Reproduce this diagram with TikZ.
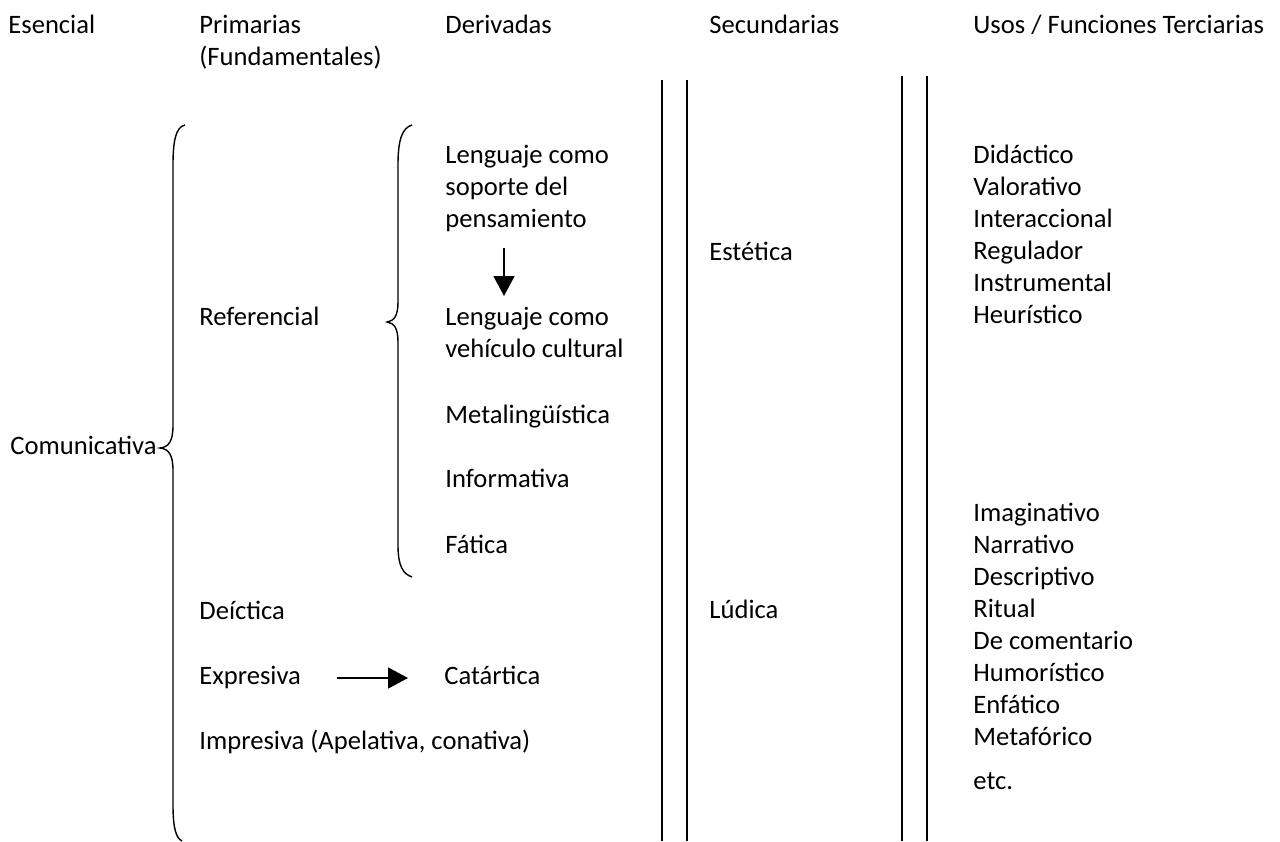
\documentclass[tikz,border=0pt]{standalone}
\usepackage{fontspec}
\setmainfont{Carlito}
\usetikzlibrary{arrows.meta}

\begin{document}
\begin{tikzpicture}[x=0.5pt,y=-0.5pt,
    lbl/.style={anchor=base west,inner sep=0pt,text height=9pt,text depth=3pt,font=\fontsize{13.3}{16}\selectfont},
    arr/.style={-{Triangle[length=10pt,width=10.5pt]},line width=0.8pt},
    sep/.style={line width=1pt},
    brace/.style={line width=0.7pt}]
    \useasboundingbox (0,0) rectangle (1280,841);

    % headers
    \node[lbl] at (8,33) (h1) {Esencial};
    \node[lbl] at (199,33) (h2) {Primarias};
    \node[lbl] at (199,65) (h2b) {(Fundamentales)};
    \node[lbl] at (445,33) (h3) {Derivadas};
    \node[lbl] at (709,33) (h4) {Secundarias};
    \node[lbl] at (973,33) (h5) {Usos / Funciones Terciarias};

    % esencial and primarias
    \node[lbl] at (10,454) (com) {Comunicativa};
    \node[lbl] at (199,325) (ref) {Referencial};
    \node[lbl] at (199,619) (dei) {Deíctica};
    \node[lbl] at (199,684) (expr) {Expresiva};
    \node[lbl] at (199,749) (imp) {Impresiva (Apelativa, conativa)};

    % derivadas
    \node[lbl] at (445,163) (lc1) {Lenguaje como};
    \node[lbl] at (445,195) (sop) {soporte del};
    \node[lbl] at (445,227) (pen) {pensamiento};
    \node[lbl] at (445,325) (lc2) {Lenguaje como};
    \node[lbl] at (445,357) (veh) {vehículo cultural};
    \node[lbl] at (445,423) (met) {Metalingüística};
    \node[lbl] at (445,487) (inf) {Informativa};
    \node[lbl] at (445,553) (fat) {Fática};
    \node[lbl] at (444,684) (cat) {Catártica};

    % secundarias
    \node[lbl] at (709,260) (est) {Estética};
    \node[lbl] at (709,618) (lud) {Lúdica};

    % terciarias
    \node[lbl] at (973,163) (t1) {Didáctico};
    \node[lbl] at (973,195) (t2) {Valorativo};
    \node[lbl] at (973,227) (t3) {Interaccional};
    \node[lbl] at (973,259) (t4) {Regulador};
    \node[lbl] at (973,291) (t5) {Instrumental};
    \node[lbl] at (973,323) (t6) {Heurístico};
    \node[lbl] at (973,521) (t7) {Imaginativo};
    \node[lbl] at (973,553) (t8) {Narrativo};
    \node[lbl] at (973,585) (t9) {Descriptivo};
    \node[lbl] at (973,617) (t10) {Ritual};
    \node[lbl] at (973,649) (t11) {De comentario};
    \node[lbl] at (973,681) (t12) {Humorístico};
    \node[lbl] at (973,713) (t13) {Enfático};
    \node[lbl] at (973,745) (t14) {Metafórico};
    \node[lbl] at (973,789) (t15) {etc.};

    % arrows
    \coordinate (d1) at (504,248);
    \coordinate (d2) at (504,296);
    \draw[arr] (d1) -- (d2);
    \draw[arr,shorten <=18pt,shorten >=18pt] (expr.east) -- (cat.west);

    % double separators
    \draw[sep] (662,80) -- (662,841);
    \draw[sep] (687,80) -- (687,841);
    \draw[sep] (902,76) -- (902,841);
    \draw[sep] (927,76) -- (927,841);

    % braces
    \draw[brace] (185,125) .. controls (176,127) and (173,140) .. (173,165) -- (173,425)
        .. controls (173,441) and (169,447) .. (160,448)
        .. controls (169,449) and (173,455) .. (173,471) -- (173,805)
        .. controls (173,828) and (176,838) .. (182,841);
    \draw[brace] (412,125) .. controls (402,128) and (398,140) .. (398,165) -- (398,302)
        .. controls (398,316) and (394,321) .. (387,322)
        .. controls (394,323) and (398,328) .. (398,342) -- (398,545)
        .. controls (398,566) and (403,574) .. (412,577);
\end{tikzpicture}
\end{document}
